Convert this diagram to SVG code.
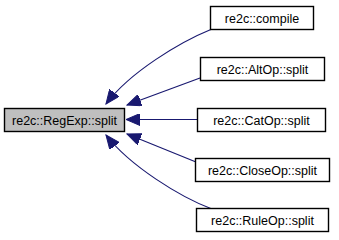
<svg xmlns="http://www.w3.org/2000/svg" width="339" height="240" viewBox="0 0 339 240">
  <style>
    .node rect { fill: #ffffff; stroke: #000000; stroke-width: 1.4; }
    .node.main rect { fill: #bfbfbf; }
    .node text { font-family: "Liberation Sans", Arial, Helvetica, sans-serif; font-size: 12.5px; fill: #000000; text-anchor: middle; }
    .edges path { fill: none; stroke: #191970; stroke-width: 1.2; marker-end: url(#arrow); }
  </style>
  <defs>
    <marker id="arrow" markerUnits="userSpaceOnUse" markerWidth="15" markerHeight="12" viewBox="0 0 15 12" refX="14" refY="6" orient="auto">
      <path d="M0,0 L14,6 L0,12 z" fill="#191970" stroke="#191970" stroke-width="1"/>
    </marker>
  </defs>
  <rect width="339" height="240" fill="#ffffff"/>

  <!-- call edges: each caller points back at RegExp::split -->
  <g class="edges" id="edges">
    <path d="M212,29 C180,42 130,72 106,104"/>
    <path d="M200,78 L127,105"/>
    <path d="M197,119.5 L126,119.5"/>
    <path d="M196,162 L127,134"/>
    <path d="M212,209 C180,197 130,166 106,135"/>
  </g>

  <g class="node main" id="node-regexp-split">
    <rect x="4.5" y="108.5" width="120" height="23"/>
    <text x="64.5" y="124.5">re2c::RegExp::split</text>
  </g>
  <g class="node" id="node-compile">
    <rect x="210.5" y="6.5" width="103" height="23"/>
    <text x="262" y="22.5">re2c::compile</text>
  </g>
  <g class="node" id="node-altop-split">
    <rect x="200.5" y="57.5" width="124" height="23"/>
    <text x="262.5" y="73.5">re2c::AltOp::split</text>
  </g>
  <g class="node" id="node-catop-split">
    <rect x="197.5" y="108.5" width="128" height="23"/>
    <text x="261.5" y="124.5">re2c::CatOp::split</text>
  </g>
  <g class="node" id="node-closeop-split">
    <rect x="195.5" y="158.5" width="134" height="23"/>
    <text x="262.5" y="174.5">re2c::CloseOp::split</text>
  </g>
  <g class="node" id="node-ruleop-split">
    <rect x="196.5" y="208.5" width="132" height="23"/>
    <text x="262.5" y="224.5">re2c::RuleOp::split</text>
  </g>
</svg>
